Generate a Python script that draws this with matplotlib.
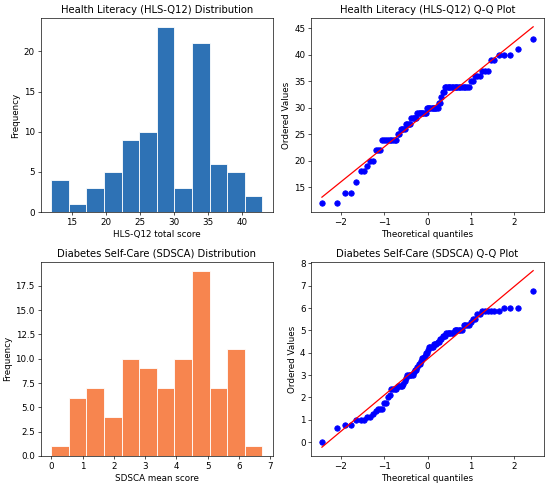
from statistics import NormalDist
import numpy as np
import matplotlib
matplotlib.use("Agg")
from matplotlib import pyplot as plt

# raw scores (n = 92)
hls_scores = [12, 12, 14, 14, 16, 18, 18, 19, 20, 20, 22, 22, 22,
              24, 24, 24, 24, 24, 24, 24, 24, 24,
              25, 25, 26, 26, 26, 26, 27, 27, 27, 27,
              28, 28, 28, 28, 28, 29, 29, 29, 29, 29, 29, 29, 29,
              30, 30, 30, 30, 30, 30, 30, 30, 30, 30,
              31, 31, 32, 33, 33,
              34, 34, 34, 34, 34, 34, 34, 34, 34, 34, 34, 34, 34, 34, 34, 34, 34,
              35, 35, 36, 36, 36, 37, 37, 37, 39, 39, 40, 40, 40, 41, 43]

sdsca_scores = [0.0, 0.625, 0.75, 0.75, 1.0, 1.0, 1.0,
                1.125, 1.125, 1.25, 1.375, 1.5, 1.5, 1.5,
                1.75, 1.75, 2.0, 2.125,
                2.375, 2.375, 2.375, 2.375, 2.5, 2.5, 2.5, 2.5, 2.625, 2.75,
                2.875, 3.0, 3.0, 3.0, 3.0, 3.0, 3.125, 3.25, 3.25,
                3.375, 3.5, 3.5, 3.625, 3.75, 3.75, 3.875,
                4.0, 4.0, 4.125, 4.25, 4.25, 4.25, 4.25, 4.375, 4.375, 4.375,
                4.5, 4.5, 4.625, 4.625, 4.75, 4.75, 4.75,
                4.875, 4.875, 4.875, 4.875, 4.875, 4.875,
                5.0, 5.0, 5.0, 5.0, 5.0, 5.0,
                5.25, 5.25, 5.25, 5.25, 5.375, 5.5, 5.5,
                5.75, 5.75, 5.875, 5.875, 5.875, 5.875, 5.875, 5.875,
                6.0, 6.0, 6.0, 6.75]


def probplot(ax, data):
    """normal Q-Q plot, same as scipy.stats.probplot(plot=ax)"""
    y = np.sort(np.asarray(data, dtype=float))
    n = len(y)
    m = (np.arange(1, n + 1) - 0.3175) / (n + 0.365)  # Filliben
    m[-1] = 0.5 ** (1.0 / n)
    m[0] = 1 - m[-1]
    nd = NormalDist()
    x = np.array([nd.inv_cdf(p) for p in m])
    slope, inter = np.polyfit(x, y, 1)
    ax.plot(x, y, 'bo', markersize=6.5)
    ax.plot(x, slope * x + inter, 'r-')
    ax.set_xlabel('Theoretical quantiles')
    ax.set_ylabel('Ordered Values')


plt.rcParams['font.size'] = 10.5
plt.rcParams['axes.titlesize'] = 12

fig, axes = plt.subplots(2, 2, figsize=(550 / 60, 487 / 60), dpi=60)
fig.subplots_adjust(left=40.7 / 550, right=543.7 / 550,
                    top=1 - 18 / 487, bottom=1 - 456 / 487,
                    wspace=0.165, hspace=0.256)

ax = axes[0, 0]
ax.hist(hls_scores, bins=12, color='#2e72b5', edgecolor='white')
ax.set_title('Health Literacy (HLS-Q12) Distribution')
ax.set_xlabel('HLS-Q12 total score')
ax.set_ylabel('Frequency')

ax = axes[0, 1]
probplot(ax, hls_scores)
ax.set_title('Health Literacy (HLS-Q12) Q-Q Plot')

ax = axes[1, 0]
ax.hist(sdsca_scores, bins=12, color='#f7854f', edgecolor='white')
ax.set_title('Diabetes Self-Care (SDSCA) Distribution')
ax.set_xlabel('SDSCA mean score')
ax.set_ylabel('Frequency')

ax = axes[1, 1]
probplot(ax, sdsca_scores)
ax.set_title('Diabetes Self-Care (SDSCA) Q-Q Plot')

plt.savefig('out.png', dpi=60)
